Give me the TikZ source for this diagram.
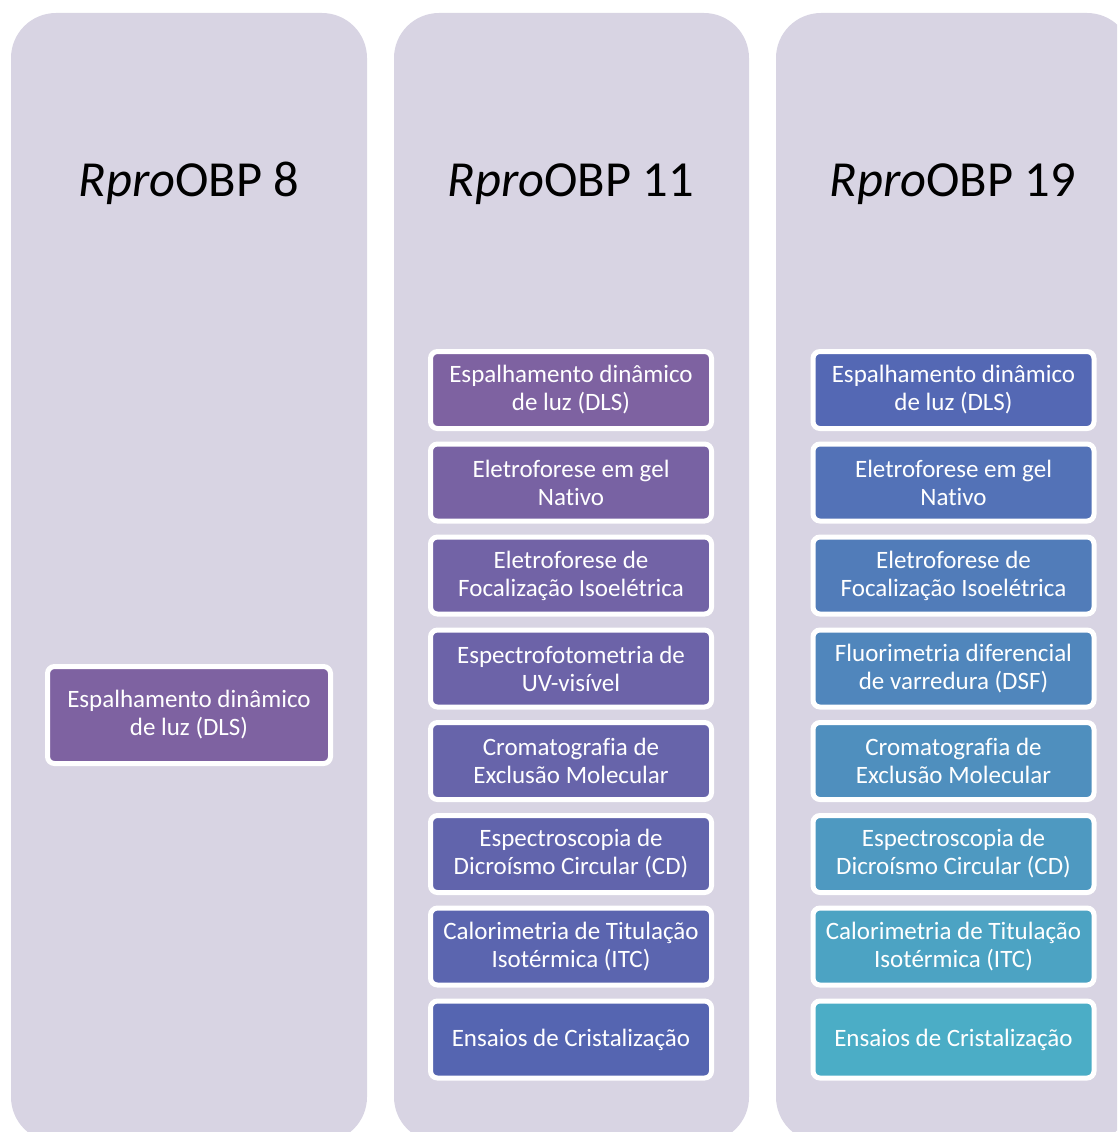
\documentclass[tikz,border=0pt]{standalone}
\usepackage{fontspec}
\setmainfont[Ligatures=CommonOff]{Carlito}
\begin{document}
\begin{tikzpicture}[x=1pt,y=-1pt,
  colbox/.style={fill=colbg, rounded corners=45pt, inner sep=0pt, draw=none},
  titletxt/.style={font=\fontsize{50.5}{60}\selectfont, anchor=base, inner sep=0pt},
  itembox/.style={rounded corners=7pt, draw=white, line width=5pt, text=white,
     align=center, font=\fontsize{25}{28}\selectfont, inner sep=0pt,
     minimum width=281pt, minimum height=77pt}]
\definecolor{colbg}{HTML}{D8D4E3}
\definecolor{pA}{HTML}{7E62A1}
\definecolor{pB}{HTML}{5565B1}
\definecolor{bA}{HTML}{5468B4}
\definecolor{bB}{HTML}{4BADC6}
\useasboundingbox (0,0) rectangle (1117,1132);
\begin{scope}
\clip (0,0) rectangle (1117,1132);
\node[colbox, minimum width=356pt, minimum height=1129pt] (c1) at (189,577.5) {};
\node[colbox, minimum width=355pt, minimum height=1129pt] (c2) at (571.5,577.5) {};
\node[colbox, minimum width=356pt, minimum height=1129pt] (c3) at (954,577.5) {};
\end{scope}
\node[titletxt] (t1) at (189,196) {\textit{Rpro}OBP 8};
\node[titletxt] (t2) at (571,196) {\textit{Rpro}OBP 11};
\node[titletxt] (t3) at (953,196) {\textit{Rpro}OBP 19};
% column 1
\node[itembox, fill=pA, minimum width=283pt, minimum height=97pt] (a1) at (189,715) {Espalhamento dinâmico\\de luz (DLS)};
% column 2
\node[itembox, fill=pB!0!pA] (b1) at (571,390) {Espalhamento dinâmico\\de luz (DLS)};
\node[itembox, fill=pB!14!pA] (b2) at (571,482.5) {Eletroforese em gel\\Nativo};
\node[itembox, fill=pB!29!pA] (b3) at (571,575.5) {Eletroforese de\\Focalização Isoelétrica};
\node[itembox, fill=pB!43!pA] (b4) at (571,668.5) {Espectrofotometria de\\UV-visível};
\node[itembox, fill=pB!57!pA] (b5) at (571,761) {Cromatografia de\\Exclusão Molecular};
\node[itembox, fill=pB!71!pA] (b6) at (571,854) {Espectroscopia de\\Dicroísmo Circular (CD)};
\node[itembox, fill=pB!86!pA] (b7) at (571,946.5) {Calorimetria de Titulação\\Isotérmica (ITC)};
\node[itembox, fill=pB!100!pA] (b8) at (571,1039.5) {Ensaios de Cristalização};
% column 3
\node[itembox, fill=bB!0!bA] (d1) at (953.5,390) {Espalhamento dinâmico\\de luz (DLS)};
\node[itembox, fill=bB!14!bA] (d2) at (953.5,482.5) {Eletroforese em gel\\Nativo};
\node[itembox, fill=bB!29!bA] (d3) at (953.5,575.5) {Eletroforese de\\Focalização Isoelétrica};
\node[itembox, fill=bB!43!bA] (d4) at (953.5,668.5) {Fluorimetria diferencial\\de varredura (DSF)};
\node[itembox, fill=bB!57!bA] (d5) at (953.5,761) {Cromatografia de\\Exclusão Molecular};
\node[itembox, fill=bB!71!bA] (d6) at (953.5,854) {Espectroscopia de\\Dicroísmo Circular (CD)};
\node[itembox, fill=bB!86!bA] (d7) at (953.5,946.5) {Calorimetria de Titulação\\Isotérmica (ITC)};
\node[itembox, fill=bB!100!bA] (d8) at (953.5,1039.5) {Ensaios de Cristalização};
\end{tikzpicture}
\end{document}
